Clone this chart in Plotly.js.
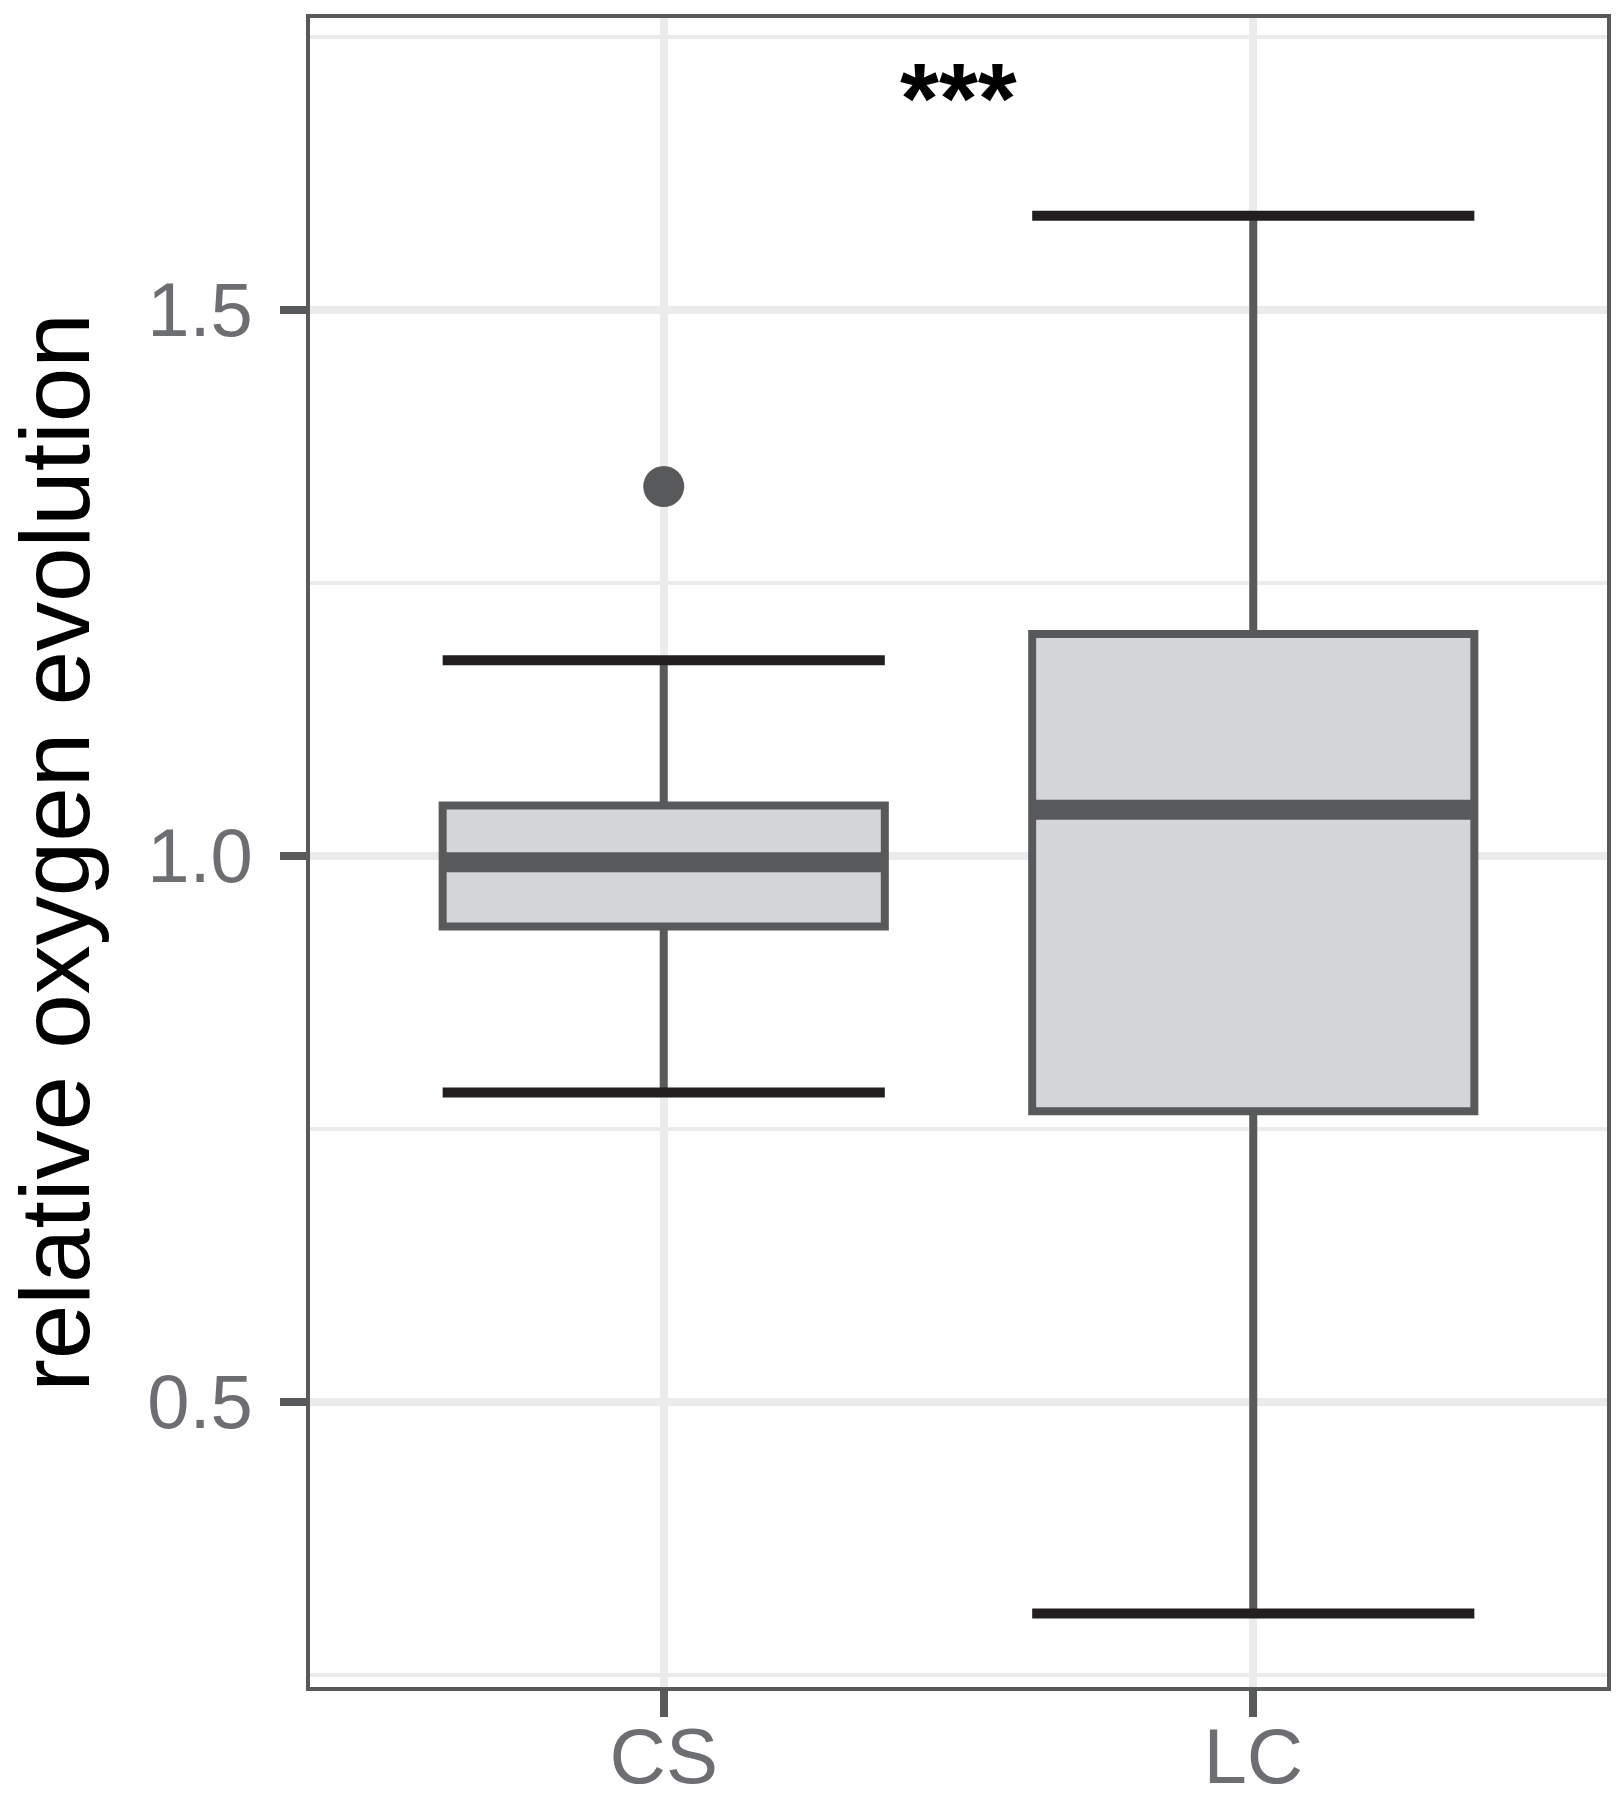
<!DOCTYPE html>
<html>
<head>
<meta charset="utf-8">
<script src="https://cdn.plot.ly/plotly-3.0.1.min.js"></script>
<style>
  html, body { margin: 0; padding: 0; background: #fff; }
  #chart { width: 1622px; height: 1801px; }
</style>
</head>
<body>
<div id="chart"></div>
<script>
// box statistics
const groups = ['CS', 'LC'];
const lowerWhisker = [0.783, 0.306];
const q1 = [0.935, 0.766];
const medians = [0.994, 1.042];
const q3 = [1.046, 1.203];
const upperWhisker = [1.179, 1.586];

// outlying points
const outlierGroup = [0];
const outlierValues = [1.338];

// significance label
const signifText = '***';
const signifY = 1.694;

const boxWidth = 0.75;
const darkGrey = '#58595b';
const capColor = '#231f20';
const gridColor = '#ebebeb';
const tickGrey = '#6d6e71';

const pos = groups.map((_, i) => i);

// helper: horizontal segments across the box width at given values
function segments(values) {
    const xs = [], ys = [];
    values.forEach((v, i) => {
        xs.push(pos[i] - boxWidth / 2, pos[i] + boxWidth / 2, null);
        ys.push(v, v, null);
    });
    return {x: xs, y: ys};
}

const capsLow = segments(lowerWhisker);
const capsHigh = segments(upperWhisker);
const medSeg = segments(medians);

const traces = [
    {
        type: 'box',
        x: pos,
        q1: q1,
        median: medians,
        q3: q3,
        lowerfence: lowerWhisker,
        upperfence: upperWhisker,
        width: boxWidth,
        whiskerwidth: 0,
        boxpoints: false,
        fillcolor: '#d4d5d7',
        line: {color: darkGrey, width: 8},
        showlegend: false,
        hoverinfo: 'skip'
    },
    {
        type: 'scatter', mode: 'lines',
        x: medSeg.x, y: medSeg.y,
        line: {color: darkGrey, width: 20},
        showlegend: false, hoverinfo: 'skip'
    },
    {
        type: 'scatter', mode: 'lines',
        x: capsLow.x.concat(capsHigh.x), y: capsLow.y.concat(capsHigh.y),
        line: {color: capColor, width: 10},
        showlegend: false, hoverinfo: 'skip'
    },
    {
        type: 'scatter', mode: 'markers',
        x: outlierGroup.map(i => pos[i]), y: outlierValues,
        marker: {color: darkGrey, size: 41},
        showlegend: false, hoverinfo: 'skip'
    }
];

const layout = {
    width: 1622,
    height: 1801,
    margin: {l: 310, r: 15, t: 18, b: 114},
    paper_bgcolor: '#fff',
    plot_bgcolor: '#fff',
    font: {family: 'Liberation Sans, Arial, sans-serif'},
    xaxis: {
        range: [-0.6, 1.6],
        tickvals: pos,
        ticktext: groups,
        showgrid: true, gridcolor: gridColor, gridwidth: 8,
        zeroline: false,
        ticks: 'outside', ticklen: 26, tickwidth: 8, tickcolor: darkGrey,
        ticklabelstandoff: -28,
        showline: true, mirror: true, linecolor: darkGrey, linewidth: 4,
        tickfont: {size: 78, color: tickGrey}
    },
    yaxis: {
        range: [0.2387, 1.767],
        tick0: 0, dtick: 0.5, tickformat: '.1f',
        showgrid: true, gridcolor: gridColor, gridwidth: 8,
        minor: {dtick: 0.25, tick0: 0, showgrid: true, gridcolor: gridColor, gridwidth: 4},
        zeroline: false,
        ticks: 'outside', ticklen: 26, tickwidth: 8, tickcolor: darkGrey,
        ticklabelstandoff: 12,
        showline: true, mirror: true, linecolor: darkGrey, linewidth: 4,
        tickfont: {size: 76, color: tickGrey},
        title: {text: 'relative oxygen evolution', font: {size: 98, color: '#000'}, standoff: 32}
    },
    annotations: [{
        x: (pos[0] + pos[1]) / 2, y: signifY,
        xref: 'x', yref: 'y',
        text: signifText, showarrow: false,
        font: {size: 100, color: '#000', family: 'Liberation Sans, Arial, sans-serif', weight: 'bold'},
        xanchor: 'center', yanchor: 'middle'
    }]
};

Plotly.newPlot('chart', traces, layout, {staticPlot: true, displayModeBar: false});
</script>
</body>
</html>
